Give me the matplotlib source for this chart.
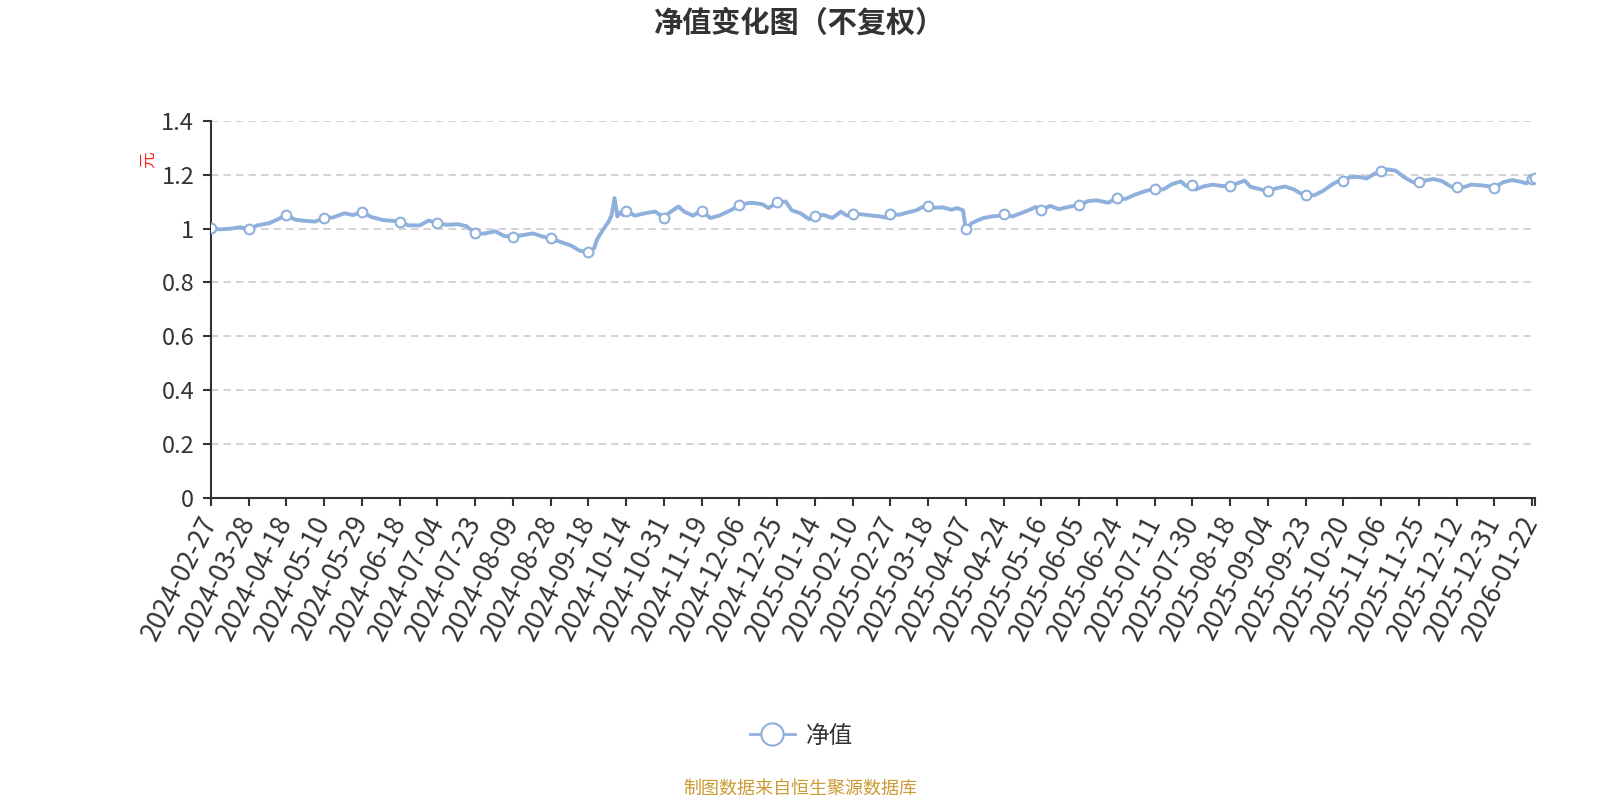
import numpy as np
import matplotlib
matplotlib.use("Agg")
import matplotlib.pyplot as plt
from matplotlib.lines import Line2D

plt.rcParams["font.family"] = ["Noto Sans CJK SC", "DejaVu Sans"]

# ---------- data (trading-day index -> NAV) ----------
label_dates = ["2024-02-27", "2024-03-28", "2024-04-18", "2024-05-10", "2024-05-29",
               "2024-06-18", "2024-07-04", "2024-07-23", "2024-08-09", "2024-08-28",
               "2024-09-18", "2024-10-14", "2024-10-31", "2024-11-19", "2024-12-06",
               "2024-12-25", "2025-01-14", "2025-02-10", "2025-02-27", "2025-03-18",
               "2025-04-07", "2025-04-24", "2025-05-16", "2025-06-05", "2025-06-24",
               "2025-07-11", "2025-07-30", "2025-08-18", "2025-09-04", "2025-09-23",
               "2025-10-20", "2025-11-06", "2025-11-25", "2025-12-12", "2025-12-31",
               "2026-01-22"]
label_step = 13
n_days = 457

days = [0, 3, 7, 10, 13, 16, 20, 23, 26, 29, 33, 36, 39, 42, 46, 49,
        52, 55, 59, 62, 65, 68, 72, 75, 78, 81, 85, 88, 91, 94, 98, 101,
        104, 107, 111, 114, 117, 120, 124, 127, 130, 132, 133, 135, 137, 138, 139, 140,
        141, 142, 143, 146, 150, 153, 156, 158, 161, 163, 166, 169, 172, 175, 179,
        182, 185, 187, 190, 192, 195, 196, 198, 200, 203, 206, 208, 211, 214, 217, 219,
        221, 224, 227, 230, 233, 234, 237, 240, 243, 245, 247, 249, 252, 255, 257, 258, 259,
        260, 262, 264, 266, 269, 271, 273, 276, 279, 282, 284, 286, 289, 292, 296,
        299, 302, 305, 309, 312, 315, 318, 322, 325, 328, 331, 334, 336,
        338, 339, 342, 345, 348, 351, 353, 356, 358, 361, 364, 367, 370, 373, 375,
        377, 380, 383, 386, 388, 390, 392, 395, 398, 401, 403, 405, 408, 411, 414,
        416, 418, 421, 424, 427, 429, 431, 434, 438, 440, 442, 445, 448, 451, 453,
        455, 456]
nav = [1.003, 0.997, 1.000, 1.005, 0.997, 1.012, 1.020, 1.034, 1.051, 1.033, 1.028, 1.026,
       1.040, 1.041, 1.057, 1.050, 1.063, 1.044, 1.032, 1.029, 1.026, 1.012, 1.012, 1.030,
       1.020, 1.014, 1.016, 1.009, 0.983, 0.981, 0.990, 0.972, 0.970, 0.975, 0.982, 0.971,
       0.964, 0.952, 0.937, 0.918, 0.913, 0.927, 0.960, 0.995, 1.026, 1.050, 1.113, 1.045,
       1.060, 1.050, 1.066, 1.048, 1.058, 1.063, 1.041, 1.060, 1.082, 1.063, 1.048, 1.067,
       1.039, 1.048, 1.068, 1.086, 1.095, 1.095, 1.090, 1.076, 1.097, 1.100, 1.100, 1.068,
       1.057, 1.035, 1.045, 1.051, 1.039, 1.063, 1.048, 1.053, 1.053, 1.049, 1.046, 1.040,
       1.055, 1.051, 1.060, 1.068, 1.080, 1.082, 1.077, 1.079, 1.070, 1.076, 1.072, 1.068,
       0.998, 1.020, 1.030, 1.039, 1.045, 1.047, 1.053, 1.045, 1.057, 1.070, 1.080, 1.070,
       1.084, 1.072, 1.082, 1.086, 1.102, 1.105, 1.096, 1.113, 1.110, 1.125, 1.140, 1.147,
       1.145, 1.165, 1.175, 1.157, 1.160, 1.145, 1.157, 1.163, 1.158, 1.159, 1.166, 1.178,
       1.155, 1.147, 1.138, 1.150, 1.156, 1.145, 1.132, 1.125, 1.124, 1.140, 1.163, 1.175,
       1.178, 1.190, 1.192, 1.186, 1.205, 1.215, 1.220, 1.215, 1.190, 1.172, 1.171, 1.178,
       1.184, 1.176, 1.156, 1.153, 1.152, 1.163, 1.160, 1.157, 1.152, 1.172, 1.180, 1.174,
       1.168, 1.183, 1.186]

line_color = "#8fb0dc"

fig = plt.figure(figsize=(16, 8), dpi=100)
ax = fig.add_axes([0.1318, 0.3775, 0.8276, 0.4715])

marks = [i for i, d in enumerate(days) if d % label_step == 0 or d == days[-1]]
ax.plot(days, nav, color=line_color, lw=2.8, solid_joinstyle="round",
        marker="o", markevery=marks, ms=7, mfc="white", mec=line_color, mew=1.5, zorder=3)

ax.set_xlim(0, n_days - 1)
ax.set_ylim(0, 1.4)
yt = np.arange(0, 1.41, 0.2)
ax.set_yticks(yt)
ax.set_yticklabels(["0", "0.2", "0.4", "0.6", "0.8", "1", "1.2", "1.4"], fontsize=17, color="#333333")
for v in yt[1:]:
    ax.axhline(v, color="#cccccc", lw=1.2, ls=(0, (4.5, 3)), zorder=1)

tick_pos = [i * label_step for i in range(len(label_dates))] + [n_days - 1]
ax.set_xticks(tick_pos)
ax.set_xticklabels(label_dates + [""], rotation=63, ha="right", va="center",
                   rotation_mode="anchor", fontsize=19, color="#333333")
ax.tick_params(axis="x", length=6, width=1.5, color="#333333", pad=8)
ax.tick_params(axis="y", length=6, width=1.5, color="#333333", pad=6)

for s in ["top", "right"]:
    ax.spines[s].set_visible(False)
for s in ["left", "bottom"]:
    ax.spines[s].set_color("#333333")
    ax.spines[s].set_linewidth(1.5)

fig.text(0.5, 0.972, "净值变化图（不复权）", ha="center", va="center",
         fontsize=21, fontweight="bold", color="#333333")
fig.text(0.093, 0.80, "元", ha="center", va="center", rotation=90,
         fontsize=12, color="#ff2222")

handle = Line2D([], [], color=line_color, lw=2, marker="o", ms=16,
                mfc="white", mec=line_color, mew=1.5)
fig.legend([handle], ["净值"], loc="center", bbox_to_anchor=(0.501, 0.08),
           frameon=False, fontsize=17, handlelength=1.9, handletextpad=0.5,
           labelcolor="#333333")

fig.text(0.5, 0.014, "制图数据来自恒生聚源数据库", ha="center", va="center",
         fontsize=13, color="#cc9933")

fig.savefig("out.png", dpi=100)
